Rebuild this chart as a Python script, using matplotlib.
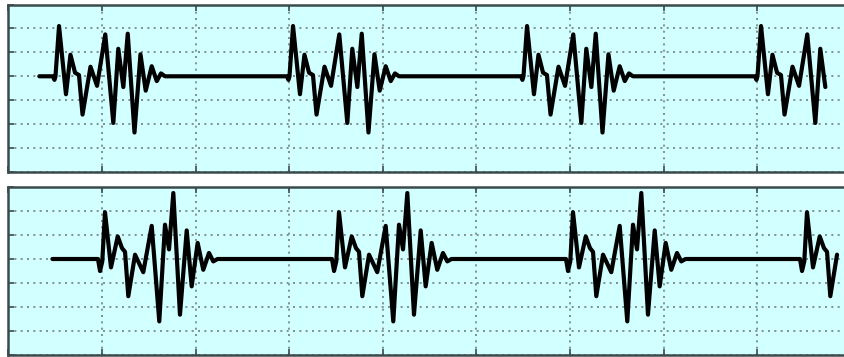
import numpy as np
import matplotlib
matplotlib.use('Agg')
import matplotlib.pyplot as plt

# one burst of each trace
# t = time after burst onset (grid units), y = amplitude (grid units)
top_t = [-0.024, -0.008, 0.003, 0.041, 0.115, 0.163, 0.212, 0.254, 0.292,
         0.377, 0.447, 0.535, 0.621, 0.674, 0.728, 0.775, 0.847, 0.911,
         0.967, 1.031, 1.085, 1.130, 1.173]
top_y = [0.0, -0.15, 0.0, 2.1, -0.75, 0.9, 0.15, 0.05, -1.6,
         0.4, -0.4, 1.75, -1.95, 1.15, -0.45, 1.78, -2.35, 0.92,
         -0.6, 0.42, -0.2, 0.12, 0.0]
top_onsets = [0.5, 3.0, 5.5, 8.0]
top_span = (0.33, 8.73)

bot_t = [-0.043, -0.021, 0.003, 0.032, 0.096, 0.168, 0.214, 0.246, 0.281,
         0.353, 0.441, 0.531, 0.612, 0.673, 0.716, 0.762, 0.833, 0.905,
         0.958, 1.022, 1.082, 1.143, 1.189, 1.234]
bot_y = [0.0, -0.5, -0.1, 1.95, -0.35, 0.94, 0.45, 0.3, -1.55,
         0.18, -0.55, 1.38, -2.6, 1.43, 0.4, 2.75, -2.32, 1.19,
         -1.14, 0.67, -0.45, 0.25, -0.1, 0.0]
bot_onsets = [1.0, 3.5, 6.0, 8.5]
bot_span = (0.47, 8.87)

xticks = np.arange(0, 10)
yticks = np.arange(-4, 4)


def build_trace(t, y, onsets, span):
    xs = [span[0]]
    ys = [0.0]
    for o in onsets:
        xs += [o + v for v in t]
        ys += list(y)
    xs = np.array(xs)
    ys = np.array(ys)
    m = xs <= span[1]
    xs, ys = xs[m], ys[m]
    if xs[-1] < span[1] - 0.05:
        xs = np.append(xs, span[1])
        ys = np.append(ys, 0.0)
    return xs, ys


def style_ax(ax):
    ax.set_facecolor('#d2ffff')
    ax.set_xlim(0, 9)
    ax.set_ylim(-4, 3)
    ax.set_xticks(xticks)
    ax.set_yticks(yticks)
    ax.set_xticklabels([])
    ax.set_yticklabels([])
    ax.tick_params(direction='in', length=4, width=1.2, color='#3c4a4a',
                   top=True, right=True)
    ax.grid(True, color='#708080', linewidth=1.2, linestyle=(0, (1.2, 2.6)))
    for s in ax.spines.values():
        s.set_color('#3c4a4a')
        s.set_linewidth(1.8)


F = plt.figure(figsize=(8.44, 3.57), dpi=100)
ax1 = F.add_axes([8.4 / 844, (357 - 172) / 357., 842.4 / 844, 167.5 / 357.])
ax2 = F.add_axes([8.4 / 844, 2.0 / 357., 842.4 / 844, 168.0 / 357.])

for ax, (t, y, on, sp) in zip([ax1, ax2],
                              [(top_t, top_y, top_onsets, top_span),
                               (bot_t, bot_y, bot_onsets, bot_span)]):
    style_ax(ax)
    x, v = build_trace(t, y, on, sp)
    ax.plot(x, v, color='black', linewidth=3.0, solid_joinstyle='round',
            solid_capstyle='round')

plt.savefig('out.png', dpi=100)
plt.close()
